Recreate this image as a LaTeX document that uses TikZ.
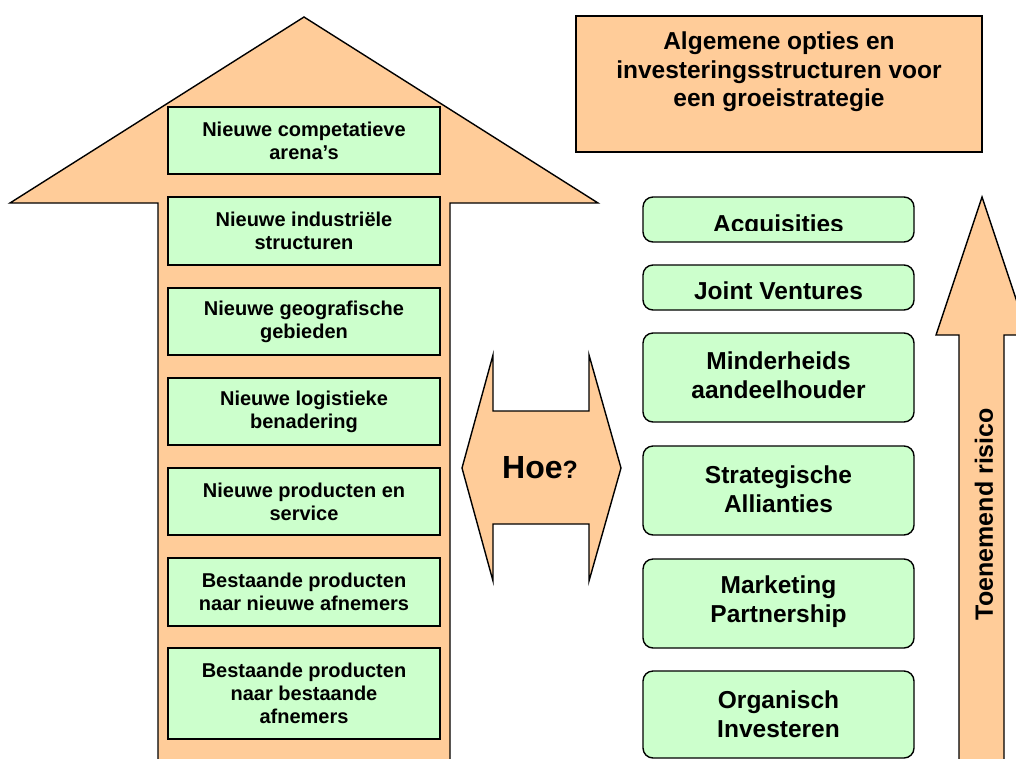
\documentclass[tikz,border=0pt]{standalone}
\usepackage{fontspec}
\setmainfont{Liberation Sans}
\definecolor{orangefill}{HTML}{FFCC99}
\definecolor{greenfill}{HTML}{CCFFCC}
\begin{document}
\begin{tikzpicture}[x=1pt,y=-1pt,
  shapestyle/.style={draw=black, line width=1.4pt, fill=orangefill, line join=miter},
  lbox/.style={draw=black, line width=1.4pt, fill=greenfill, minimum width=272pt, align=center,
    inner sep=0pt, font=\fontsize{20}{23}\selectfont\bfseries},
  rbox/.style={draw=black, line width=1.4pt, fill=greenfill, rounded corners=10pt, minimum width=271pt,
    inner sep=0pt},
  rtext/.style={font=\fontsize{24.5}{29}\selectfont\bfseries, align=center, inner sep=0pt},
  bigtext/.style={font=\fontsize{24.5}{28.5}\selectfont\bfseries, align=center, inner sep=0pt}
]
\clip (0,0) rectangle (1016,758);
\fill[white] (0,0) rectangle (1016,758);

% left big arrow
\draw[shapestyle] (158,775) -- (158,203) -- (10,203) -- (304,17) -- (598,203) -- (450,203) -- (450,775);

% left boxes
\node[lbox, minimum height=67pt] (l1) at (304,140.5) {Nieuwe competatieve\\arena’s};
\node[lbox, minimum height=68pt] (l2) at (304,231) {Nieuwe industriële\\structuren};
\node[lbox, minimum height=67pt] (l3) at (304,321.5) {Nieuwe geografische\\gebieden};
\node[lbox, minimum height=67pt] (l4) at (304,411.5) {Nieuwe logistieke\\benadering};
\node[lbox, minimum height=67pt] (l5) at (304,501.5) {Nieuwe producten en\\service};
\node[lbox, minimum height=68pt] (l6) at (304,592) {Bestaande producten\\naar nieuwe afnemers};
\node[lbox, minimum height=91pt] (l7) at (304,693.5) {Bestaande producten\\naar bestaande\\afnemers};

% title box
\node[shapestyle, minimum width=406pt, minimum height=136pt, inner sep=0pt] (title) at (779,84) {};
\node[bigtext] (titletext) at (779,72) {Algemene opties en\\investeringsstructuren voor\\een groeistrategie};

% Hoe? double arrow
\draw[shapestyle] (462,468) -- (493,355) -- (493,411) -- (589,411) -- (589,355) -- (621,468)
  -- (589,581) -- (589,524) -- (493,524) -- (493,581) -- cycle;
\node[inner sep=0pt, font=\bfseries] (hoe) at (540,468) {\fontsize{32}{36}\selectfont Hoe\fontsize{25}{30}\selectfont ?};

% right boxes
\node[rbox, minimum height=45pt] (r1) at (778.5,219.5) {};
\begin{scope}
  \clip (643,197) rectangle (914,230);
  \node[rtext, anchor=base] (r1text) at (778.5,232.5) {Acquisities};
\end{scope}
\node[rbox, minimum height=45pt] (r2) at (778.5,287.5) {};
\node[rtext, anchor=base] (r2text) at (778.5,299) {Joint Ventures};
\node[rbox, minimum height=89pt] (r3) at (778.5,377.5) {};
\node[rtext] (r3text) at (778.5,375.5) {Minderheids\\aandeelhouder};
\node[rbox, minimum height=89pt] (r4) at (778.5,490.5) {};
\node[rtext] (r4text) at (778.5,489) {Strategische\\Allianties};
\node[rbox, minimum height=89pt] (r5) at (778.5,603.5) {};
\node[rtext] (r5text) at (778.5,602) {Marketing\\Partnership};
\node[rbox, minimum height=87pt] (r6) at (778.5,714.5) {};
\node[rtext] (r6text) at (778.5,714) {Organisch\\Investeren};

% right arrow
\draw[shapestyle] (959,775) -- (959,335) -- (936,335) -- (982,197) -- (1028,335) -- (1004,335) -- (1004,775);
\node[rotate=90, inner sep=0pt, font=\fontsize{25}{29}\selectfont\bfseries] (risk) at (984,514) {Toenemend risico};
\end{tikzpicture}
\end{document}
